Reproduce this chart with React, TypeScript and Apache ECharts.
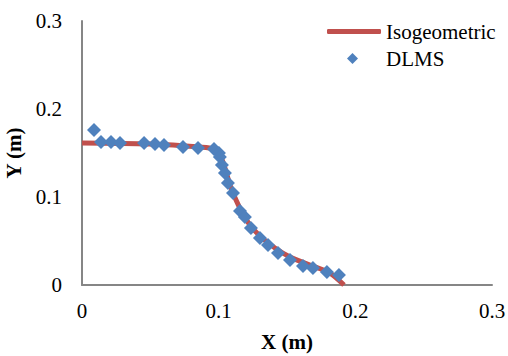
import React, { useEffect, useRef } from "react";
import * as echarts from "echarts";

const isoX = [0, 0.0497, 0.0863, 0.0966, 0.1009, 0.1039, 0.1083, 0.1127, 0.117, 0.1229, 0.1302, 0.1412, 0.1522, 0.1668, 0.1814, 0.1917];
const isoY = [0.1614, 0.1602, 0.1568, 0.1545, 0.1477, 0.1364, 0.1136, 0.0966, 0.083, 0.0682, 0.0557, 0.042, 0.0318, 0.0227, 0.0136, 0.0];

const dlmsX = [0.0088, 0.0139, 0.0212, 0.0278, 0.0454, 0.0534, 0.06, 0.0739, 0.0849, 0.0966, 0.1002, 0.1009, 0.1024, 0.1046, 0.1068, 0.1105, 0.1156, 0.1192, 0.1236, 0.1302, 0.1361, 0.1434, 0.1522, 0.1617, 0.169, 0.1792, 0.188];
const dlmsY = [0.176, 0.1625, 0.1625, 0.1614, 0.1614, 0.1602, 0.1591, 0.1568, 0.1557, 0.1545, 0.15, 0.1455, 0.1364, 0.1273, 0.1159, 0.1045, 0.0841, 0.0773, 0.0648, 0.0534, 0.0455, 0.0364, 0.0284, 0.0216, 0.0193, 0.0148, 0.0114];

const FONT = "Liberation Serif";
const FS = 21;

export default function App() {
  const ref = useRef<HTMLDivElement>(null);
  useEffect(() => {
    if (!ref.current) return;
    const chart = echarts.init(ref.current, undefined, { renderer: "svg" });
    chart.setOption({
      animation: false,
      textStyle: { fontFamily: FONT },
      grid: { left: 82, right: 16, top: 21, bottom: 71, containLabel: false, outerBoundsMode: "none" },
      legend: [
        {
          left: 327,
          top: 21,
          padding: 0,
          itemWidth: 54,
          itemHeight: 5,
          icon: "roundRect",
          data: ["Isogeometric"],
          textStyle: { fontFamily: FONT, fontSize: FS, color: "#000" },
        },
        {
          left: 347,
          top: 48,
          padding: 0,
          itemWidth: 11,
          itemHeight: 11,
          icon: "diamond",
          data: ["DLMS"],
          textStyle: { fontFamily: FONT, fontSize: FS, color: "#000", padding: [0, 0, 0, 23] },
        },
      ],
      xAxis: {
        type: "value",
        min: 0,
        max: 0.3,
        interval: 0.1,
        name: "X (m)",
        nameLocation: "middle",
        nameGap: 46,
        nameTextStyle: { fontFamily: FONT, fontSize: FS, fontWeight: "bold", color: "#000" },
        axisLine: { lineStyle: { color: "#868686", width: 2 } },
        axisTick: { show: false },
        splitLine: { show: false },
        axisLabel: { fontFamily: FONT, fontSize: FS, color: "#000", margin: 15 },
      },
      yAxis: {
        type: "value",
        min: 0,
        max: 0.3,
        interval: 0.1,
        name: "Y (m)",
        nameLocation: "middle",
        nameGap: 45,
        nameTextStyle: { fontFamily: FONT, fontSize: FS, fontWeight: "bold", color: "#000" },
        axisLine: { show: true, lineStyle: { color: "#868686", width: 2 } },
        axisTick: { show: false },
        splitLine: { show: false },
        axisLabel: { fontFamily: FONT, fontSize: FS, color: "#000", margin: 20 },
      },
      series: [
        {
          name: "Isogeometric",
          type: "line",
          smooth: 0.3,
          symbol: "none",
          data: isoX.map((x, i) => [x, isoY[i]]),
          lineStyle: { color: "#C0504D", width: 5 },
          itemStyle: { color: "#C0504D" },
          z: 2,
        },
        {
          name: "DLMS",
          type: "scatter",
          symbol: "diamond",
          symbolSize: 14,
          data: dlmsX.map((x, i) => [x, dlmsY[i]]),
          itemStyle: { color: "#4F81BD", opacity: 1 },
          z: 3,
        },
      ],
    });
    return () => chart.dispose();
  }, []);
  return <div ref={ref} style={{ width: 508, height: 356, position: "absolute", left: 0, top: 0 }} />;
}
